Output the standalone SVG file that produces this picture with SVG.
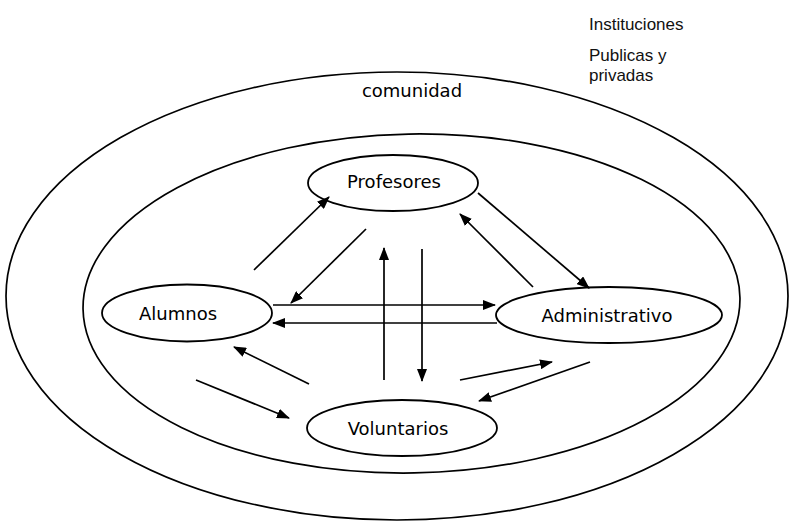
<svg xmlns="http://www.w3.org/2000/svg" width="789" height="522" viewBox="0 0 789 522">
<defs>
<marker id="ah" viewBox="0 0 13 10" refX="12" refY="5" markerWidth="13" markerHeight="10" markerUnits="userSpaceOnUse" orient="auto">
<path d="M0,0 L13,5 L0,10 Z" fill="#000"/>
</marker>
</defs>
<style>
.ring{fill:none;stroke:#000;stroke-width:1.7}
.node{fill:#fff;stroke:#000;stroke-width:1.8}
.lbl{font-family:"DejaVu Sans",Verdana,sans-serif;font-size:18px;text-anchor:middle;fill:#000}
.note{font-family:"Liberation Sans",Arial,sans-serif;font-size:17px;fill:#111}
.conn line{stroke:#000;stroke-width:1.7;marker-end:url(#ah)}
</style>
<rect width="789" height="522" fill="#fff"/>
<g id="comunidad">
<ellipse class="ring" cx="397" cy="296" rx="391" ry="224"/>
<text class="lbl" x="412" y="97">comunidad</text>
</g>
<g id="escuela">
<ellipse class="ring" cx="411.5" cy="303.5" rx="328.5" ry="169.5" transform="rotate(-1 411.5 303.5)"/>
</g>
<g id="instituciones">
<text class="note" x="589" y="30">Instituciones</text>
<text class="note" x="589" y="61">Publicas y</text>
<text class="note" x="589" y="81">privadas</text>
</g>
<g id="profesores">
<ellipse class="node" cx="393" cy="183" rx="85" ry="28"/>
<text class="lbl" x="394" y="188">Profesores</text>
</g>
<g id="alumnos">
<ellipse class="node" cx="187" cy="313" rx="85" ry="28.5"/>
<text class="lbl" x="178" y="320">Alumnos</text>
</g>
<g id="administrativo">
<ellipse class="node" cx="609" cy="315" rx="113" ry="28"/>
<text class="lbl" x="607" y="322">Administrativo</text>
</g>
<g id="voluntarios">
<ellipse class="node" cx="402" cy="428" rx="95" ry="28"/>
<text class="lbl" x="398" y="435">Voluntarios</text>
</g>
<g class="conn" id="connectors">
<line x1="254" y1="270" x2="329" y2="197"/>
<line x1="366" y1="229" x2="291" y2="303"/>
<line x1="478" y1="193" x2="589" y2="288"/>
<line x1="533" y1="287" x2="460" y2="214"/>
<line x1="273" y1="305" x2="495" y2="305"/>
<line x1="497" y1="323" x2="273" y2="323"/>
<line x1="384" y1="380" x2="384" y2="248"/>
<line x1="422" y1="249" x2="422" y2="381"/>
<line x1="309" y1="384" x2="234" y2="347"/>
<line x1="196" y1="380" x2="289" y2="418"/>
<line x1="460" y1="380" x2="552" y2="362"/>
<line x1="590" y1="362" x2="479" y2="401"/>
</g>
</svg>
